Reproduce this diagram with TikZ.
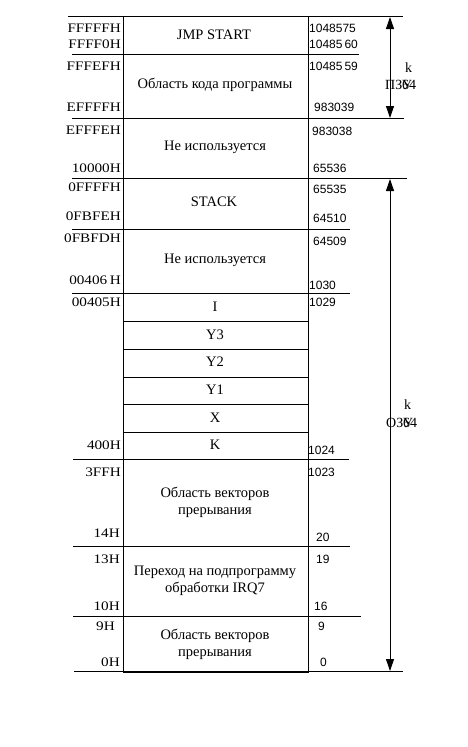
\documentclass[tikz,border=0pt]{standalone}
\usepackage{fontspec}
\setmainfont{Liberation Serif}
\newfontfamily\labsans{Liberation Sans}
\usetikzlibrary{arrows.meta}
\newcommand{\wideit}[1]{\scalebox{1.17}[1]{#1}}
\tikzset{
  lab/.style={anchor=east, inner sep=0pt, font=\fontsize{13}{14}\selectfont},
  num/.style={anchor=west, inner sep=0pt, font=\labsans\fontsize{12}{13}\selectfont},
  cell/.style={inner sep=0pt, align=center, font=\fontsize{14.5}{17}\selectfont},
  rule/.style={line width=0.9pt},
  dim/.style={line width=0.9pt, {Triangle[width=8pt,length=12pt]}-{Triangle[width=8pt,length=12pt]}},
  side/.style={inner sep=0pt, font=\fontsize{14}{15}\selectfont}
}
\begin{document}
\begin{tikzpicture}[x=1pt,y=-1pt]
\useasboundingbox (0,0) rectangle (467,747);
% box outline
\draw[rule] (123,16) -- (123,672) -- (308,672) -- (308,16);
% horizontal rules
\draw[rule] (68,16) -- (403,16);
\draw[rule] (72,54) -- (359,54);
\draw[rule] (72,118) -- (404,118);
\draw[rule] (72,178) -- (407,178);
\draw[rule] (72,229) -- (350,229);
\draw[rule] (72,293) -- (350,293);
\draw[rule] (123,321) -- (308,321);
\draw[rule] (123,349) -- (308,349);
\draw[rule] (123,377) -- (308,377);
\draw[rule] (123,404) -- (308,404);
\draw[rule] (123,432) -- (308,432);
\draw[rule] (73,459) -- (349,459);
\draw[rule] (73,546) -- (350,546);
\draw[rule] (73,616) -- (361,616);
\draw[rule] (74,671) -- (403,671);
% cell texts
\node[cell] (c1) at (214,35) {JMP START};
\node[cell] (c2) at (215,85) {Область кода программы};
\node[cell] (c3) at (215,147) {Не используется};
\node[cell] (c4) at (214,202) {STACK};
\node[cell] (c5) at (215,260) {Не используется};
\node[cell] (c6) at (215,307) {I};
\node[cell] (c7) at (215,335) {Y3};
\node[cell] (c8) at (215,362) {Y2};
\node[cell] (c9) at (215,390) {Y1};
\node[cell] (c10) at (215,418) {X};
\node[cell] (c11) at (215,445) {K};
\node[cell] (c12) at (215,502) {Область векторов\\прерывания};
\node[cell] (c13) at (215,581) {Переход на подпрограмму\\обработки IRQ7};
\node[cell] (c14) at (215,644) {Область векторов\\прерывания};
% left hex labels
\node[lab] (h1) at (121,28) {\wideit{FFFFFH}};
\node[lab] (h2) at (121,44) {\wideit{FFFF0H}};
\node[lab] (h3) at (121,66) {\wideit{FFFEFH}};
\node[lab] (h4) at (121,107) {\wideit{EFFFFH}};
\node[lab] (h5) at (121,130) {\wideit{EFFFEH}};
\node[lab] (h6) at (121,168) {\wideit{10000H}};
\node[lab] (h7) at (121,187) {\wideit{0FFFFH}};
\node[lab] (h8) at (121,216) {\wideit{0FBFEH}};
\node[lab] (h9) at (121,238) {\wideit{0FBFDH}};
\node[lab] (h10) at (121,280) {\wideit{00406\,H}};
\node[lab] (h11) at (121,302) {\wideit{00405H}};
\node[lab] (h12) at (121,445) {\wideit{400H}};
\node[lab] (h13) at (121,472) {\wideit{3FFH}};
\node[lab] (h14) at (120,533) {\wideit{14H}};
\node[lab] (h15) at (120,559) {\wideit{13H}};
\node[lab] (h16) at (120,606) {\wideit{10H}};
\node[lab] (h17) at (115,626) {\wideit{9H}};
\node[lab] (h18) at (120,662) {\wideit{0H}};
% right decimal labels
\node[num] (d1) at (309,28) {1048575};
\node[num] (d2) at (309,44) {10485\,60};
\node[num] (d3) at (309,66) {10485\,59};
\node[num] (d4) at (314,107) {983039};
\node[num] (d5) at (312,131) {983038};
\node[num] (d6) at (313,168) {65536};
\node[num] (d7) at (313,189) {65535};
\node[num] (d8) at (313,218) {64510};
\node[num] (d9) at (313,241) {64509};
\node[num] (d10) at (309,285) {1030};
\node[num] (d11) at (309,302) {1029};
\node[num] (d12) at (308,450) {1024};
\node[num] (d13) at (308,472) {1023};
\node[num] (d14) at (316,537) {20};
\node[num] (d15) at (316,559) {19};
\node[num] (d16) at (314,606) {16};
\node[num] (d17) at (318,626) {9};
\node[num] (d18) at (320,662) {0};
% dimension arrows
\coordinate (romT) at (390,17);
\coordinate (romB) at (390,118);
\coordinate (ramT) at (390,179);
\coordinate (ramB) at (390,671);
\draw[dim] (romT) -- (romB);
\draw[dim] (ramT) -- (ramB);
% side labels
\node[side, anchor=west] (rk) at (405,68) {k};
\node[side, anchor=west] (rn) at (385,85) {ПЗУ};
\node[side, anchor=west] (r64) at (402,85) {64};
\node[side, anchor=west] (ok) at (404,405) {k};
\node[side, anchor=west] (on) at (386,423) {ОЗУ};
\node[side, anchor=west] (o64) at (403,423) {64};
\end{tikzpicture}
\end{document}
